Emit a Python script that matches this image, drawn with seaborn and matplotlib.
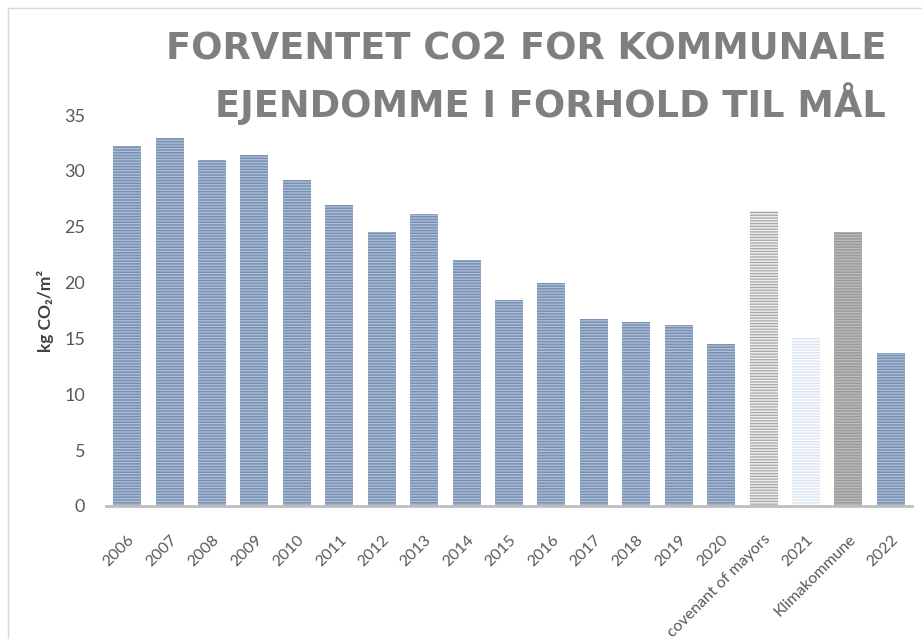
import matplotlib
matplotlib.use("Agg")
import numpy as np
import pandas as pd
import seaborn as sns
from matplotlib import pyplot as plt
from matplotlib.lines import Line2D

categories = ['2006', '2007', '2008', '2009', '2010', '2011', '2012', '2013', '2014', '2015',
              '2016', '2017', '2018', '2019', '2020', 'covenant of mayors', '2021', 'Klimakommune', '2022']
values = [32.2, 32.9, 31.0, 31.4, 29.2, 26.9, 24.5, 26.1, 22.0, 18.4,
          20.0, 16.7, 16.5, 16.2, 14.5, 26.4, 15.0, 24.5, 13.7]

blue, blue_stripe = '#7a90b2', '#aebfd8'
fills = [blue] * 15 + ['#ececec', '#dce6f2', '#9b9b9b', blue]
stripes = [blue_stripe] * 15 + ['#a8a8a8', '#ffffff', '#bdbdbd', blue_stripe]

sns.set_theme(style='white')
plt.rcParams['font.family'] = ['Lato', 'DejaVu Sans']
plt.rcParams['hatch.linewidth'] = 0.9

df = pd.DataFrame({'cat': categories, 'val': values})

fig = plt.figure(figsize=(9.22, 6.39), dpi=100)
ax = fig.add_axes([106 / 922, 1 - 506 / 639, 806 / 922, 391 / 639])
sns.barplot(data=df, x='cat', y='val', hue='cat', palette=fills, legend=False,
            width=0.66, saturation=1, ax=ax)

for bar, sc in zip(ax.patches, stripes):
    bar.set_hatch('------')
    bar.set_edgecolor(sc)
    bar.set_linewidth(0)

ax.set_ylim(0, 35)
ax.set_yticks(range(0, 36, 5))
ax.set_xlim(-0.5, len(categories) - 0.5)
ax.set_xlabel('')
ax.set_ylabel('kg CO₂/m²', fontsize=12.5, fontweight='bold', color='#404040', labelpad=7)
ax.tick_params(axis='y', length=0, pad=15, labelsize=13, labelcolor='#595959')
ax.tick_params(axis='x', length=0, pad=19, labelsize=11.5, labelcolor='#595959')
plt.setp(ax.get_xticklabels(), rotation=45, ha='right', rotation_mode='anchor')

for s in ['top', 'right', 'left']:
    ax.spines[s].set_visible(False)
ax.spines['bottom'].set_color('#bfbfbf')
ax.spines['bottom'].set_linewidth(2)

title_font = dict(family='DejaVu Sans', fontsize=26.5, fontweight='bold', color='#7f7f7f')
fig.text(886 / 922, 1 - 49 / 639, 'FORVENTET CO2 FOR KOMMUNALE', ha='right', va='center', **title_font)
fig.text(886 / 922, 1 - 104 / 639, 'EJENDOMME I FORHOLD TIL MÅL', ha='right', va='center', **title_font)

# chart frame
fig.add_artist(Line2D([8 / 922, 8 / 922], [0, 1 - 8 / 639], color='#d9d9d9', lw=1))
fig.add_artist(Line2D([8 / 922, 1], [1 - 8 / 639, 1 - 8 / 639], color='#d9d9d9', lw=1))

plt.savefig('out.png', dpi=100)
